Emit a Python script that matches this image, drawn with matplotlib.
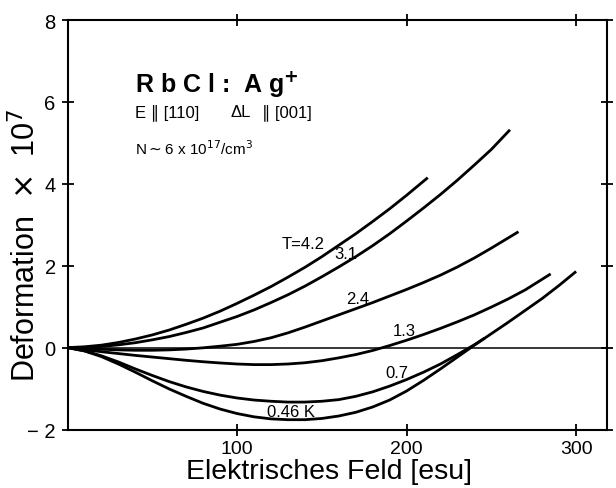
import matplotlib.pyplot as plt
import numpy as np

plt.rcParams['font.family'] = ['Liberation Sans', 'DejaVu Sans']

# curves: field [esu] -> deformation x 1e7
T42_E = [0, 10, 20, 30, 40, 50, 60, 70, 80, 90, 100, 110, 120, 130, 140, 150,
         160, 170, 180, 190, 200, 212.5]
T42_D = [0, 0.02, 0.06, 0.125, 0.21, 0.31, 0.43, 0.57, 0.72, 0.89, 1.08, 1.28,
         1.49, 1.72, 1.96, 2.22, 2.50, 2.78, 3.08, 3.39, 3.72, 4.15]

T31_E = [0, 10, 20, 30, 40, 50, 60, 70, 80, 90, 100, 110, 120, 130, 140, 150,
         160, 170, 180, 190, 200, 210, 220, 230, 240, 250, 261]
T31_D = [0, 0.007, 0.03, 0.067, 0.12, 0.19, 0.27, 0.37, 0.48, 0.62, 0.76, 0.92,
         1.10, 1.29, 1.50, 1.73, 1.97, 2.22, 2.49, 2.78, 3.09, 3.41, 3.74, 4.09,
         4.46, 4.84, 5.32]

T24_E = [0, 10, 20, 30, 40, 50, 60, 70, 80, 90, 100, 110, 120, 130, 140, 150,
         160, 170, 180, 190, 200, 210, 220, 230, 240, 250, 266]
T24_D = [0, -0.02, -0.04, -0.055, -0.065, -0.065, -0.055, -0.035, -0.005, 0.035,
         0.08, 0.15, 0.24, 0.36, 0.50, 0.65, 0.80, 0.95, 1.10, 1.26, 1.42, 1.59,
         1.77, 1.97, 2.19, 2.43, 2.83]

T13_E = [0, 10, 20, 30, 40, 50, 60, 70, 80, 90, 100, 110, 120, 130, 140, 150,
         160, 170, 180, 190, 200, 210, 220, 230, 240, 250, 260, 270, 285]
T13_D = [0, -0.05, -0.10, -0.145, -0.19, -0.23, -0.27, -0.31, -0.345, -0.375,
         -0.40, -0.415, -0.415, -0.40, -0.37, -0.32, -0.25, -0.17, -0.07, 0.05,
         0.18, 0.32, 0.47, 0.63, 0.80, 0.99, 1.19, 1.41, 1.80]

T07_E = [0, 10, 20, 30, 40, 50, 60, 70, 80, 90, 100, 110, 120, 130, 140, 150,
         160, 170, 180, 190, 200, 210, 220, 230, 240, 246]
T07_D = [0, -0.08, -0.20, -0.35, -0.52, -0.68, -0.83, -0.96, -1.07, -1.16, -1.23,
         -1.28, -1.31, -1.33, -1.33, -1.31, -1.27, -1.19, -1.08, -0.94, -0.78,
         -0.60, -0.40, -0.17, 0.07, 0.23]

T046_E = [0, 10, 20, 30, 40, 50, 60, 70, 80, 90, 100, 110, 120, 130, 140, 150,
          160, 170, 180, 190, 200, 210, 220, 230, 240, 250, 260, 270, 280, 290, 300]
T046_D = [0, -0.08, -0.22, -0.40, -0.60, -0.81, -1.01, -1.19, -1.36, -1.50, -1.61,
          -1.69, -1.74, -1.76, -1.76, -1.73, -1.67, -1.58, -1.45, -1.28, -1.06,
          -0.80, -0.52, -0.23, 0.06, 0.34, 0.62, 0.91, 1.20, 1.52, 1.86]

curves = [(T42_E, T42_D), (T31_E, T31_D), (T24_E, T24_D),
          (T13_E, T13_D), (T07_E, T07_D), (T046_E, T046_D)]

labels = ['T=4.2', '3.1', '2.4', '1.3', '0.7', '0.46 K']
label_x = [139, 164, 171, 198.5, 194.5, 132]
label_y = [2.55, 2.3, 1.2, 0.42, -0.6, -1.56]

fig = plt.figure(figsize=(6.16, 4.89), dpi=100)
ax = fig.add_axes([0.1096, 0.1196, 0.876, 0.8374])

ax.axhline(0, color='black', lw=1.1)
for e, d in curves:
    ax.plot(e, d, color='black', lw=2.0, solid_capstyle='butt', solid_joinstyle='round')

for t, x, y in zip(labels, label_x, label_y):
    ax.text(x, y, t, fontsize=12, ha='center', va='center')

ax.text(40, 6.27, r'R b C l :  A g$^{\mathbf{+}}$', fontsize=18, fontweight='bold')
ax.text(40, 5.66, 'E \u2225 [110]', fontsize=12)
ax.text(96, 5.66, '\u0394L', fontsize=12)
ax.text(114.5, 5.66, '\u2225 [001]', fontsize=12)
ax.text(40, 4.73, r'N$\sim$6 x 10$^{17}$/cm$^3$', fontsize=11)

ax.set_xlim(0, 318.3)
ax.set_ylim(-2, 8)
ax.set_xticks([100, 200, 300])
ax.set_yticks([-2, 0, 2, 4, 6, 8])
ax.set_yticklabels(['\u2212 2', '0', '2', '4', '6', '8'])
ax.tick_params(direction='inout', length=9, width=1.3, labelsize=14.5,
               top=True, right=True)
ax.tick_params(axis='x', pad=3, labelsize=14)
ax.tick_params(axis='y', pad=4)
for s in ax.spines.values():
    s.set_linewidth(1.5)

ax.set_xlabel('Elektrisches Feld [esu]', fontsize=20.5)
ax.set_ylabel(r'Deformation  $\times$  10$^7$', fontsize=22)
ax.xaxis.set_label_coords(0.485, -0.069)
ax.yaxis.set_label_coords(-0.046, 0.452)

fig.savefig('out.png', dpi=100)
